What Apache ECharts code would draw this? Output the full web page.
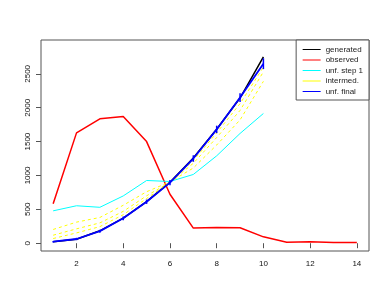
<!DOCTYPE html>
<html><head><meta charset="utf-8">
<script src="https://cdn.jsdelivr.net/npm/echarts@6/dist/echarts.min.js"></script>
<style>html,body{margin:0;padding:0;background:#fff}#c{width:390px;height:302px}</style>
</head><body><div id="c"></div>
<script>
const binsObs = [1,2,3,4,5,6,7,8,9,10,11,12,13,14];
const binsTrue = [1,2,3,4,5,6,7,8,9,10];
const observed = [584,1629,1836,1871,1500,723,223,233,228,94,15,20,12,10];
const generated = [20,59,183,371,614,901,1257,1683,2143,2752];
const unfStep1 = [478,553,530,698,926,911,1015,1290,1620,1915];
const intermed1 = [203,311,380,560,760,905,1110,1450,1820,2390];
const intermed2 = [118,212,300,470,700,900,1180,1560,1960,2530];
const intermed3 = [69,152,245,420,660,898,1220,1630,2060,2600];
const unfFinal = [22,62,178,368,612,895,1250,1680,2150,2650];
const unfErr = [12,18,22,28,32,40,48,55,65,80];
const xTicks = [2,4,6,8,10,12,14];
const yTicks = [0,500,1000,1500,2000,2500];
const legendNames = ['generated','observed','unf. step 1','intermed.','unf. final'];
const legendColors = ['#000000','#ff0000','#00ffff','#ffff00','#0000ff'];

const pairs = (xs, ys) => ys.map((v,i)=>[xs[i], v]);
const font = 'Liberation Sans, Arial, sans-serif';
const chart = echarts.init(document.getElementById('c'), null, {renderer:'canvas'});
const lineS = (name, data, color, width, type, z) => ({
  type:'line', name, data, symbol:'none', z,
  lineStyle:{color, width, type: type||'solid'}, itemStyle:{color},
  emphasis:{disabled:true}, animation:false
});
chart.setOption({
  animation:false,
  grid:{left:41, top:40, width:328, height:211, show:true, borderColor:'#555', borderWidth:1, backgroundColor:'transparent'},
  xAxis:{type:'value', min:0.48, max:14.52,
    axisLine:{show:false}, splitLine:{show:false},
    axisTick:{show:true, customValues:xTicks, length:5, inside:false, lineStyle:{color:'#555'}},
    axisLabel:{customValues:xTicks, margin:9, fontSize:8, color:'#111', fontFamily:font, formatter:v=>String(v)}},
  yAxis:{type:'value', min:-115, max:3000,
    axisLine:{show:false}, splitLine:{show:false},
    axisTick:{show:true, customValues:yTicks, length:5, inside:false, lineStyle:{color:'#555'}},
    axisLabel:{customValues:yTicks, rotate:90, margin:9, fontSize:8, color:'#111', fontFamily:font, formatter:v=>String(v)}},
  legend:{orient:'vertical', right:21, top:40, padding:[5,6,4,6], itemGap:1.5,
    itemWidth:18, itemHeight:9, backgroundColor:'#fff', borderColor:'#555', borderWidth:1,
    textStyle:{fontSize:8, color:'#222', fontFamily:font, lineHeight:9},
    data:legendNames.map((n,i)=>({name:n,
      itemStyle:{color:legendColors[i], opacity:0},
      lineStyle:{color:legendColors[i], width:1, type:'solid', opacity:1}}))},
  series:[
    lineS('generated', pairs(binsTrue, generated), '#000000', 1.5, 'solid', 2),
    lineS('observed', pairs(binsObs, observed), '#ff0000', 1.5, 'solid', 3),
    lineS('unf. step 1', pairs(binsTrue, unfStep1), '#00ffff', 1, 'solid', 3),
    lineS('intermed.', pairs(binsTrue, intermed1), '#ffff00', 1, [3,3], 3),
    lineS('intermed.', pairs(binsTrue, intermed2), '#ffff00', 1, [3,3], 3),
    lineS('intermed.', pairs(binsTrue, intermed3), '#ffff00', 1, [3,3], 3),
    lineS('unf. final', pairs(binsTrue, unfFinal), '#0000ff', 1.8, 'solid', 4),
    {type:'custom', name:'unf. final err', z:4, silent:true, animation:false,
     data: unfFinal.map((v,i)=>[binsTrue[i], v - unfErr[i], v + unfErr[i]]),
     renderItem:(params, api)=>{
       const p1 = api.coord([api.value(0), api.value(1)]);
       const p2 = api.coord([api.value(0), api.value(2)]);
       return {type:'line', shape:{x1:p1[0], y1:p1[1], x2:p2[0], y2:p2[1]},
               style:{stroke:'#0000ff', lineWidth:1.5}};
     }}
  ]
});
</script></body></html>
